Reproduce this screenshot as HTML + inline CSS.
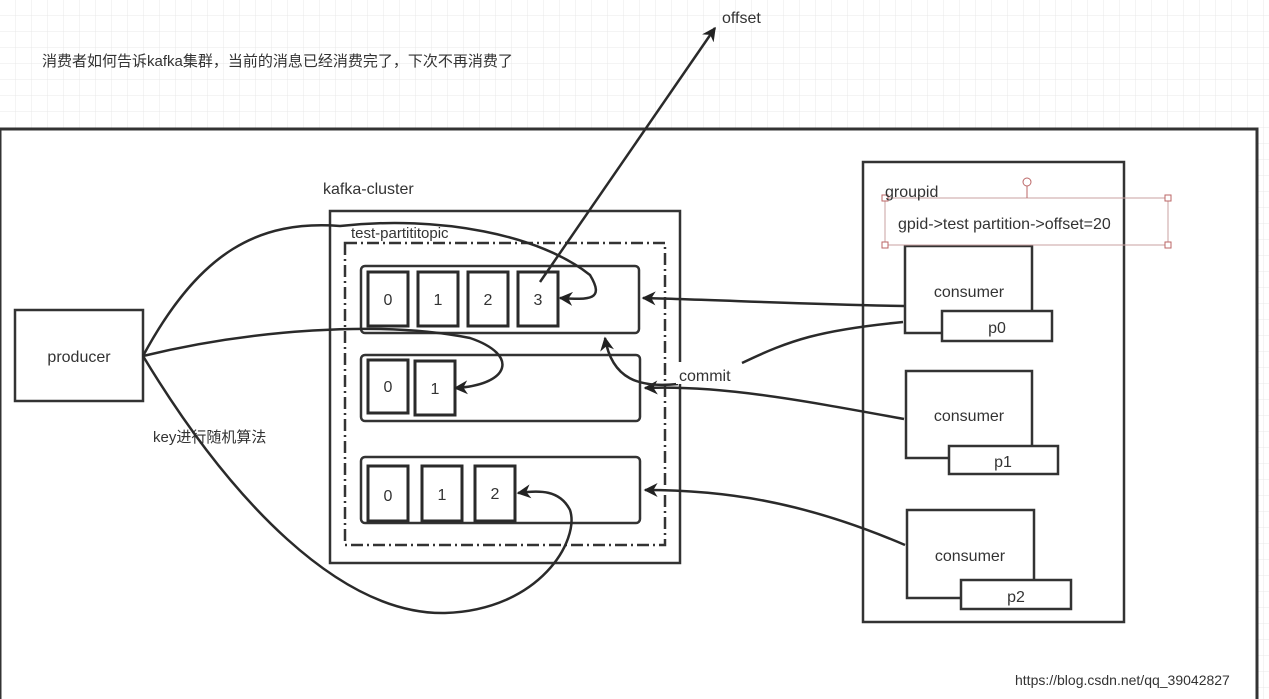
<!DOCTYPE html>
<html><head><meta charset="utf-8"><style>
html,body{margin:0;padding:0;background:#fff}
svg{display:block}
text{font-family:"Liberation Sans","Noto Sans CJK SC",sans-serif;fill:#333}
</style></head><body>
<svg width="1269" height="699" viewBox="0 0 1269 699" xmlns="http://www.w3.org/2000/svg">
<defs>
<pattern id="g" width="16" height="16" patternUnits="userSpaceOnUse">
<path d="M16 0V16M0 16H16" fill="none" stroke="#e8e8e8" stroke-width="1"/>
</pattern>
<marker id="b" viewBox="0 0 10 10" refX="9" refY="5" markerWidth="18" markerHeight="14" orient="auto" markerUnits="userSpaceOnUse">
<path d="M0 0L10 5L0 10L3 5Z" fill="#222"/></marker>
</defs>
<rect width="1269" height="699" fill="url(#g)"/>
<rect x="0" y="129" width="1257" height="580" fill="#fff" stroke="#333" stroke-width="3"/>
<text x="42" y="66" font-size="15" fill="#444">消费者如何告诉kafka集群，当前的消息已经消费完了，下次不再消费了</text>
<text x="722" y="23" font-size="16">offset</text>
<g fill="none" stroke="#333" stroke-width="2.5">
<rect x="15" y="310" width="128" height="91"/>
<rect x="330" y="211" width="350" height="352"/>
<rect x="345" y="243" width="320" height="302" stroke-dasharray="12,4,2,4"/>
<rect x="361" y="266" width="278" height="67" rx="4"/>
<rect x="361" y="355" width="279" height="66" rx="4"/>
<rect x="361" y="457" width="279" height="66" rx="4"/>
<rect x="863" y="162" width="261" height="460"/>
<rect x="905" y="246" width="127" height="87"/>
<rect x="906" y="371" width="126" height="87"/>
<rect x="907" y="510" width="127" height="88"/>
</g>
<g fill="none" stroke="#2a2a2a" stroke-width="3">
<rect x="368" y="272" width="40" height="54"/>
<rect x="418" y="272" width="40" height="54"/>
<rect x="468" y="272" width="40" height="54"/>
<rect x="518" y="272" width="40" height="54"/>
<rect x="368" y="360" width="40" height="53"/>
<rect x="415" y="361" width="40" height="54"/>
<rect x="368" y="466" width="40" height="55"/>
<rect x="422" y="466" width="40" height="55"/>
<rect x="475" y="466" width="40" height="55"/>
</g>
<g fill="#fff" stroke="#333" stroke-width="2.5">
<rect x="942" y="311" width="110" height="30"/>
<rect x="949" y="446" width="109" height="28"/>
<rect x="961" y="580" width="110" height="29"/>
</g>
<rect x="885" y="198" width="283" height="47" fill="none" stroke="#c9a0a0" stroke-width="1"/>
<g fill="#fff" stroke="#b66" stroke-width="1">
<rect x="882" y="195" width="6" height="6"/><rect x="1165" y="195" width="6" height="6"/>
<rect x="882" y="242" width="6" height="6"/><rect x="1165" y="242" width="6" height="6"/>
<circle cx="1027" cy="182" r="4"/></g>
<line x1="1027" y1="186" x2="1027" y2="198" stroke="#b66"/>
<g font-size="16" text-anchor="middle">
<text x="79" y="362">producer</text>
<text x="388" y="305">0</text><text x="438" y="305">1</text><text x="488" y="305">2</text><text x="538" y="305">3</text>
<text x="388" y="392">0</text><text x="435" y="394">1</text>
<text x="388" y="501">0</text><text x="442" y="500">1</text><text x="495" y="499">2</text>
<text x="969" y="297">consumer</text><text x="969" y="421">consumer</text><text x="970" y="561">consumer</text>
<text x="997" y="333">p0</text><text x="1003" y="467">p1</text><text x="1016" y="602">p2</text>
</g>
<text x="323" y="194" font-size="16">kafka-cluster</text>
<text x="351" y="238" font-size="15">test-partititopic</text>
<text x="885" y="197" font-size="16">groupid</text>
<text x="898" y="229" font-size="16">gpid-&gt;test  partition-&gt;offset=20</text>
<text x="153" y="442" font-size="15">key进行随机算法</text>
<g fill="none" stroke="#2a2a2a" stroke-width="2.5">
<path d="M540 282L715 28" marker-end="url(#b)"/>
<path d="M143 356C200 250 260 220 340 226C440 215 540 235 590 275C605 300 590 300 560 298" marker-end="url(#b)"/>
<path d="M143 356C250 330 380 320 470 338C520 355 510 385 455 388" marker-end="url(#b)"/>
<path d="M143 356C230 500 340 615 445 613C540 610 580 540 570 510C560 490 540 490 518 493" marker-end="url(#b)"/>
<path d="M904 306C800 304 720 300 643 298" marker-end="url(#b)"/>
<path d="M904 419C800 400 720 385 645 388" marker-end="url(#b)"/>
<path d="M905 545C800 500 720 490 645 490" marker-end="url(#b)"/>
<path d="M903 322C820 330 790 340 742 363"/>
<path d="M678 384C640 388 612 380 605 338" marker-end="url(#b)"/>
</g>
<rect x="676" y="362" width="65" height="22" fill="#fff"/>
<text x="679" y="381" font-size="16">commit</text>
<text x="1015" y="685" font-size="14" fill="#dadada">https://blog.csdn.net/qq_39042827</text>
</svg>
</body></html>
